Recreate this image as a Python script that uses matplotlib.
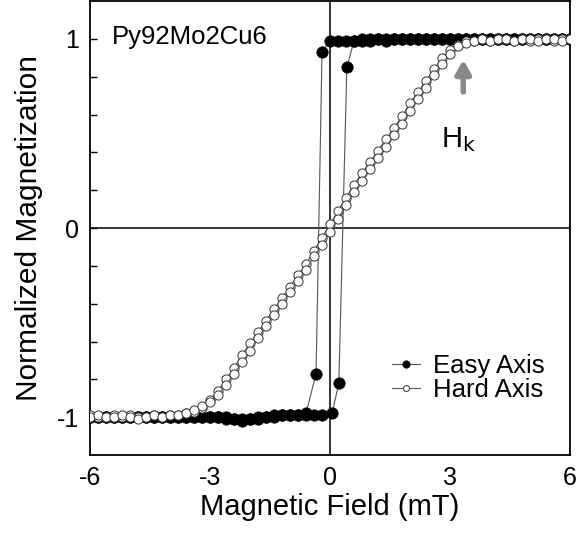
import matplotlib
matplotlib.use("Agg")
import matplotlib.pyplot as plt

plt.rcParams['font.family'] = ['Liberation Sans', 'DejaVu Sans']

# ---------------- data ----------------
# Hard axis, field sweeps (mT) and normalized magnetization
hard_H_down = [6.0, 5.8, 5.6, 5.4, 5.2, 5.0, 4.8, 4.6, 4.4, 4.2, 4.0, 3.8, 3.6, 3.4, 3.2, 3.0,
               2.8, 2.6, 2.4, 2.2, 2.0, 1.8, 1.6, 1.4, 1.2, 1.0, 0.8, 0.6, 0.4, 0.2, 0.0,
               -0.2, -0.4, -0.6, -0.8, -1.0, -1.2, -1.4, -1.6, -1.8, -2.0, -2.2, -2.4, -2.6,
               -2.8, -3.0, -3.2, -3.4, -3.6, -3.8, -4.0, -4.2, -4.4, -4.6, -4.8, -5.0, -5.2,
               -5.4, -5.6, -5.8, -6.0]
hard_M_down = [1.00, 1.00, 0.99, 1.00, 1.00, 0.99, 1.00, 0.99, 1.00, 1.00, 0.99, 1.00, 0.99, 0.99, 0.97, 0.94,
               0.90, 0.84, 0.78, 0.72, 0.66, 0.59, 0.53, 0.47, 0.41, 0.35, 0.29, 0.23, 0.16, 0.09, 0.02,
               -0.05, -0.12, -0.19, -0.25, -0.31, -0.37, -0.43, -0.49, -0.55, -0.61, -0.67, -0.74, -0.80,
               -0.86, -0.91, -0.95, -0.97, -0.98, -0.99, -0.99, -1.00, -0.99, -1.00, -1.00, -0.99, -1.00,
               -0.99, -1.00, -1.00, -0.99]
hard_H_up = [-6.0, -5.8, -5.6, -5.4, -5.2, -5.0, -4.8, -4.6, -4.4, -4.2, -4.0, -3.8, -3.6, -3.4, -3.2,
             -3.0, -2.8, -2.6, -2.4, -2.2, -2.0, -1.8, -1.6, -1.4, -1.2, -1.0, -0.8, -0.6, -0.4, -0.2,
             0.0, 0.2, 0.4, 0.6, 0.8, 1.0, 1.2, 1.4, 1.6, 1.8, 2.0, 2.2, 2.4, 2.6, 2.8, 3.0, 3.2, 3.4,
             3.6, 3.8, 4.0, 4.2, 4.4, 4.6, 4.8, 5.0, 5.2, 5.4, 5.6, 5.8, 6.0]
hard_M_up = [-1.00, -0.99, -1.00, -1.00, -0.99, -1.00, -1.01, -1.00, -0.99, -1.00, -0.99, -0.99, -0.98, -0.96, -0.94,
             -0.92, -0.88, -0.83, -0.77, -0.71, -0.65, -0.58, -0.52, -0.46, -0.40, -0.34, -0.28, -0.22, -0.15, -0.09,
             -0.02, 0.05, 0.12, 0.19, 0.25, 0.31, 0.37, 0.43, 0.49, 0.55, 0.62, 0.68, 0.74, 0.81, 0.87, 0.92, 0.96, 0.98,
             0.99, 1.00, 0.99, 1.00, 1.00, 0.99, 1.00, 1.00, 0.99, 1.00, 1.00, 0.99, 1.00]

# Easy axis
easy_H_down = [6.0, 5.8, 5.6, 5.4, 5.2, 5.0, 4.8, 4.6, 4.4, 4.2, 4.0, 3.8, 3.6, 3.4, 3.2, 3.0,
               2.8, 2.6, 2.4, 2.2, 2.0, 1.8, 1.6, 1.4, 1.2, 1.0, 0.8, 0.6, 0.4, 0.2, 0.0,
               -0.2, -0.35, -0.6, -0.8, -1.0, -1.2, -1.4, -1.6, -1.8, -2.0, -2.2, -2.4, -2.6,
               -2.8, -3.0, -3.2, -3.4, -3.6, -3.8, -4.0, -4.2, -4.4, -4.6, -4.8, -5.0, -5.2,
               -5.4, -5.6, -5.8, -6.0]
easy_M_down = [1.00, 1.00, 1.00, 1.00, 1.00, 1.00, 1.00, 1.00, 1.00, 1.00, 1.00, 1.00, 1.00, 1.00, 1.00, 1.00,
               1.00, 1.00, 1.00, 1.00, 1.00, 1.00, 1.00, 0.99, 1.00, 0.99, 0.99, 0.99, 0.99, 0.99, 0.99,
               0.93, -0.77, -0.98, -0.99, -0.99, -0.99, -1.00, -1.00, -1.01, -1.01, -1.02, -1.01, -1.01,
               -1.00, -1.00, -1.00, -1.00, -1.00, -1.00, -1.00, -1.00, -1.00, -1.00, -1.00, -1.00, -1.00,
               -1.00, -1.00, -1.00, -1.00]
easy_H_up = [-6.0, -5.8, -5.6, -5.4, -5.2, -5.0, -4.8, -4.6, -4.4, -4.2, -4.0, -3.8, -3.6, -3.4, -3.2,
             -3.0, -2.8, -2.6, -2.4, -2.2, -2.0, -1.8, -1.6, -1.4, -1.2, -1.0, -0.8, -0.6, -0.4, -0.2,
             0.05, 0.22, 0.42, 0.6, 0.8, 1.0, 1.2, 1.4, 1.6, 1.8, 2.0, 2.2, 2.4, 2.6, 2.8, 3.0, 3.2, 3.4,
             3.6, 3.8, 4.0, 4.2, 4.4, 4.6, 4.8, 5.0, 5.2, 5.4, 5.6, 5.8, 6.0]
easy_M_up = [-1.00, -1.00, -1.00, -1.00, -1.00, -1.00, -1.00, -1.00, -1.00, -1.00, -1.00, -1.00, -1.00, -1.00, -1.00,
             -1.00, -1.00, -1.00, -1.01, -1.01, -1.01, -1.00, -1.00, -0.99, -0.99, -0.99, -0.99, -0.99, -0.99, -0.99,
             -0.98, -0.82, 0.85, 0.99, 1.00, 1.00, 1.00, 1.00, 1.00, 1.00, 1.00, 1.00, 1.00, 1.00, 1.00, 1.00, 1.00, 1.00,
             1.00, 1.00, 1.00, 1.00, 1.00, 1.00, 1.00, 1.00, 1.00, 1.00, 1.00, 1.00, 1.00]

x_ticks = [-6, -3, 0, 3, 6]
y_ticks = [-1, 0, 1]
sample_label = "Py92Mo2Cu6"
hk_field = 3.33
# --------------------------------------

fig = plt.figure(figsize=(5.77, 5.43), dpi=100)
ax = fig.add_axes([0.156, 0.162, 0.832, 0.836])

line_c = '#555555'
ax.axhline(0, color='black', lw=1.1, zorder=1)
ax.axvline(0, color='black', lw=1.1, zorder=1)

easy_kw = dict(color=line_c, lw=0.8, marker='o', ms=8.2, mfc='black', mec='black', mew=0.5, zorder=2)
hard_kw = dict(color=line_c, lw=0.8, marker='o', ms=6.6, mfc='white', mec='#333333', mew=0.7, zorder=3)

l1, = ax.plot(easy_H_down, easy_M_down, **easy_kw)
ax.plot(easy_H_up, easy_M_up, **easy_kw)
l2, = ax.plot(hard_H_down, hard_M_down, **hard_kw)
ax.plot(hard_H_up, hard_M_up, **hard_kw)

ax.set_xlim(-6, 6)
ax.set_ylim(-1.2, 1.2)
ax.set_xticks(x_ticks)
ax.set_xticklabels([str(t) for t in x_ticks])
ax.set_yticks(y_ticks)
ax.set_yticklabels([str(t) for t in y_ticks])
ax.set_yticks([-1.0 + 0.2 * i for i in range(11)], minor=True)
ax.tick_params(axis='both', which='major', direction='in', length=5, width=1.0,
               labelsize=18, pad=8)
ax.tick_params(axis='y', which='minor', direction='in', length=5, width=1.0)
ax.tick_params(axis='x', which='major', length=0)
for s in ax.spines.values():
    s.set_linewidth(1.3)

ax.set_xlabel('Magnetic Field (mT)', fontsize=21, labelpad=2)
ax.set_ylabel('Normalized Magnetization', fontsize=21.5, labelpad=10)

ax.text(0.046, 0.92, sample_label, transform=ax.transAxes, fontsize=18.5,
        ha='left', va='center')

ax.annotate('', xy=(hk_field, 0.89), xytext=(hk_field, 0.72),
            arrowprops=dict(arrowstyle='-|>,head_width=0.45,head_length=0.8',
                            color='#888888', lw=4, shrinkA=0, shrinkB=0))
ax.text(3.22, 0.47, r'H$_\mathrm{k}$', fontsize=21, ha='center', va='center')

ax.legend([l1, l2], ['Easy Axis', 'Hard Axis'], loc='lower right',
          bbox_to_anchor=(0.995, 0.065), frameon=False, fontsize=18.5,
          markerscale=0.65, handlelength=1.1, handletextpad=0.5, labelspacing=0.0)

fig.savefig('out.png', dpi=100)
